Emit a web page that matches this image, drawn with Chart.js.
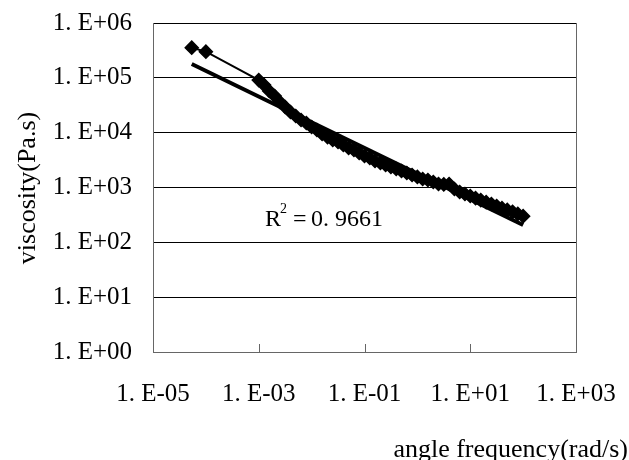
<!DOCTYPE html>
<html lang="en">
<head>
    <meta charset="UTF-8">
    <title>Viscosity vs angle frequency</title>
    <script src="https://cdn.jsdelivr.net/npm/chart.js"></script>
    <style>
        body { margin: 0; background: #fff; }
        .chartBox { width: 629px; height: 460px; }
    </style>
</head>
<body>
    <div class="chartBox">
        <canvas id="viscosityChart"></canvas>
    </div>
    <script>
        // measured points: angle frequency (rad/s) and viscosity (Pa.s)
        const frequency = [5.4e-5, 1.0e-4,
            1.00e-3, 1.26e-3, 1.58e-3, 2.00e-3, 2.51e-3, 3.16e-3, 3.98e-3, 5.01e-3, 6.31e-3, 7.94e-3,
            1.00e-2, 1.26e-2, 1.58e-2, 2.00e-2, 2.51e-2, 3.16e-2, 3.98e-2, 5.01e-2, 6.31e-2, 7.94e-2,
            0.100, 0.126, 0.158, 0.200, 0.251, 0.316, 0.398, 0.501, 0.631, 0.794,
            1.00, 1.26, 1.58, 2.00, 2.51, 3.16, 3.98, 5.01, 6.31, 7.94,
            10.0, 12.6, 15.8, 20.0, 25.1, 31.6, 39.8, 50.1, 63.1, 79.4, 100];
        const viscosity = [3.55e5, 3.0e5,
            9.1e4, 7.4e4, 5.75e4, 4.67e4, 3.63e4, 2.94e4, 2.38e4, 2.01e4, 1.70e4, 1.50e4,
            1.27e4, 1.12e4, 9.5e3, 8.3e3, 7.35e3, 6.76e3, 5.96e3, 5.26e3, 4.83e3, 4.26e3,
            3.76e3, 3.45e3, 3.04e3, 2.80e3, 2.57e3, 2.36e3, 2.18e3, 2.00e3, 1.84e3, 1.69e3,
            1.56e3, 1.43e3, 1.37e3, 1.26e3, 1.16e3, 1.14e3, 1.16e3, 9.4e2, 8.3e2, 7.6e2,
            7.0e2, 6.4e2, 5.9e2, 5.4e2, 5.0e2, 4.6e2, 4.2e2, 3.9e2, 3.6e2, 3.3e2, 3.0e2];

        // power-law trend line end points
        const trendFrequency = [5.4e-5, 100];
        const trendViscosity = [1.79e5, 2.07e2];
        const rSquared = '0. 9661';

        // axis ticks
        const xTicks = [1e-5, 1e-3, 1e-1, 1e1, 1e3];
        const xTickLabels = ['1. E-05', '1. E-03', '1. E-01', '1. E+01', '1. E+03'];
        const yTicks = [1, 1e1, 1e2, 1e3, 1e4, 1e5, 1e6];
        const yTickLabels = ['1. E+00', '1. E+01', '1. E+02', '1. E+03', '1. E+04', '1. E+05', '1. E+06'];

        const FONT = 'Liberation Serif';

        // inner tick marks, right border, axis titles and R² label
        const extras = {
            id: 'extras',
            afterDraw(chart) {
                const ctx = chart.ctx;
                const area = chart.chartArea;
                const x = chart.scales.x;
                ctx.save();
                ctx.strokeStyle = '#666';
                ctx.lineWidth = 1;
                ctx.beginPath();
                ctx.moveTo(area.right + 0.5, area.top);
                ctx.lineTo(area.right + 0.5, area.bottom);
                xTicks.slice(1, -1).forEach(v => {
                    const px = Math.round(x.getPixelForValue(v)) + 0.5;
                    ctx.moveTo(px, area.bottom);
                    ctx.lineTo(px, area.bottom - 8);
                });
                ctx.stroke();

                ctx.fillStyle = '#000';
                ctx.font = '26px "' + FONT + '"';
                ctx.textAlign = 'right';
                ctx.textBaseline = 'alphabetic';
                ctx.fillText('angle frequency(rad/s)', 628, 457);

                ctx.save();
                ctx.translate(35, 188);
                ctx.rotate(-Math.PI / 2);
                ctx.textAlign = 'center';
                ctx.fillText('viscosity(Pa.s)', 0, 0);
                ctx.restore();

                ctx.textAlign = 'left';
                ctx.font = '24px "' + FONT + '"';
                ctx.fillText('R', 265, 226);
                ctx.fillText('=', 293, 226);
                ctx.fillText(rSquared, 311, 226);
                ctx.font = '14px "' + FONT + '"';
                ctx.fillText('2', 280, 213);
                ctx.restore();
            }
        };

        const ctx = document.getElementById('viscosityChart').getContext('2d');
        new Chart(ctx, {
            type: 'scatter',
            data: {
                datasets: [{
                    data: frequency.map((f, i) => ({ x: f, y: viscosity[i] })),
                    showLine: true,
                    borderColor: '#000',
                    backgroundColor: '#000',
                    borderWidth: 2,
                    pointStyle: 'rectRot',
                    pointRadius: 6.5,
                    pointBorderWidth: 1.5
                }, {
                    data: trendFrequency.map((f, i) => ({ x: f, y: trendViscosity[i] })),
                    showLine: true,
                    borderColor: '#000',
                    borderWidth: 4,
                    pointRadius: 0
                }]
            },
            options: {
                responsive: true,
                maintainAspectRatio: false,
                animation: false,
                layout: { padding: { top: 23, right: 53, left: 0, bottom: 0 } },
                plugins: { legend: { display: false }, tooltip: { enabled: false } },
                scales: {
                    x: {
                        type: 'logarithmic',
                        min: 1e-5,
                        max: 1e3,
                        afterBuildTicks: s => { s.ticks = xTicks.map(v => ({ value: v })); },
                        afterFit: s => { s.height = 108; s.paddingLeft = 0; s.paddingRight = 0; },
                        grid: { drawOnChartArea: false, drawTicks: false },
                        border: { color: '#666' },
                        ticks: {
                            color: '#000',
                            font: { family: FONT, size: 25 },
                            padding: 27,
                            maxRotation: 0,
                            autoSkip: false,
                            callback: (v, i) => xTickLabels[i]
                        }
                    },
                    y: {
                        type: 'logarithmic',
                        min: 1,
                        max: 1e6,
                        afterBuildTicks: s => { s.ticks = yTicks.map(v => ({ value: v })); },
                        afterFit: s => { s.width = 153; s.paddingTop = 0; s.paddingBottom = 0; },
                        grid: { color: '#000', lineWidth: 1, drawTicks: false },
                        border: { color: '#666' },
                        ticks: {
                            color: '#000',
                            font: { family: FONT, size: 25 },
                            padding: 21,
                            autoSkip: false,
                            callback: (v, i) => yTickLabels[i]
                        }
                    }
                }
            },
            plugins: [extras]
        });
    </script>
</body>
</html>
